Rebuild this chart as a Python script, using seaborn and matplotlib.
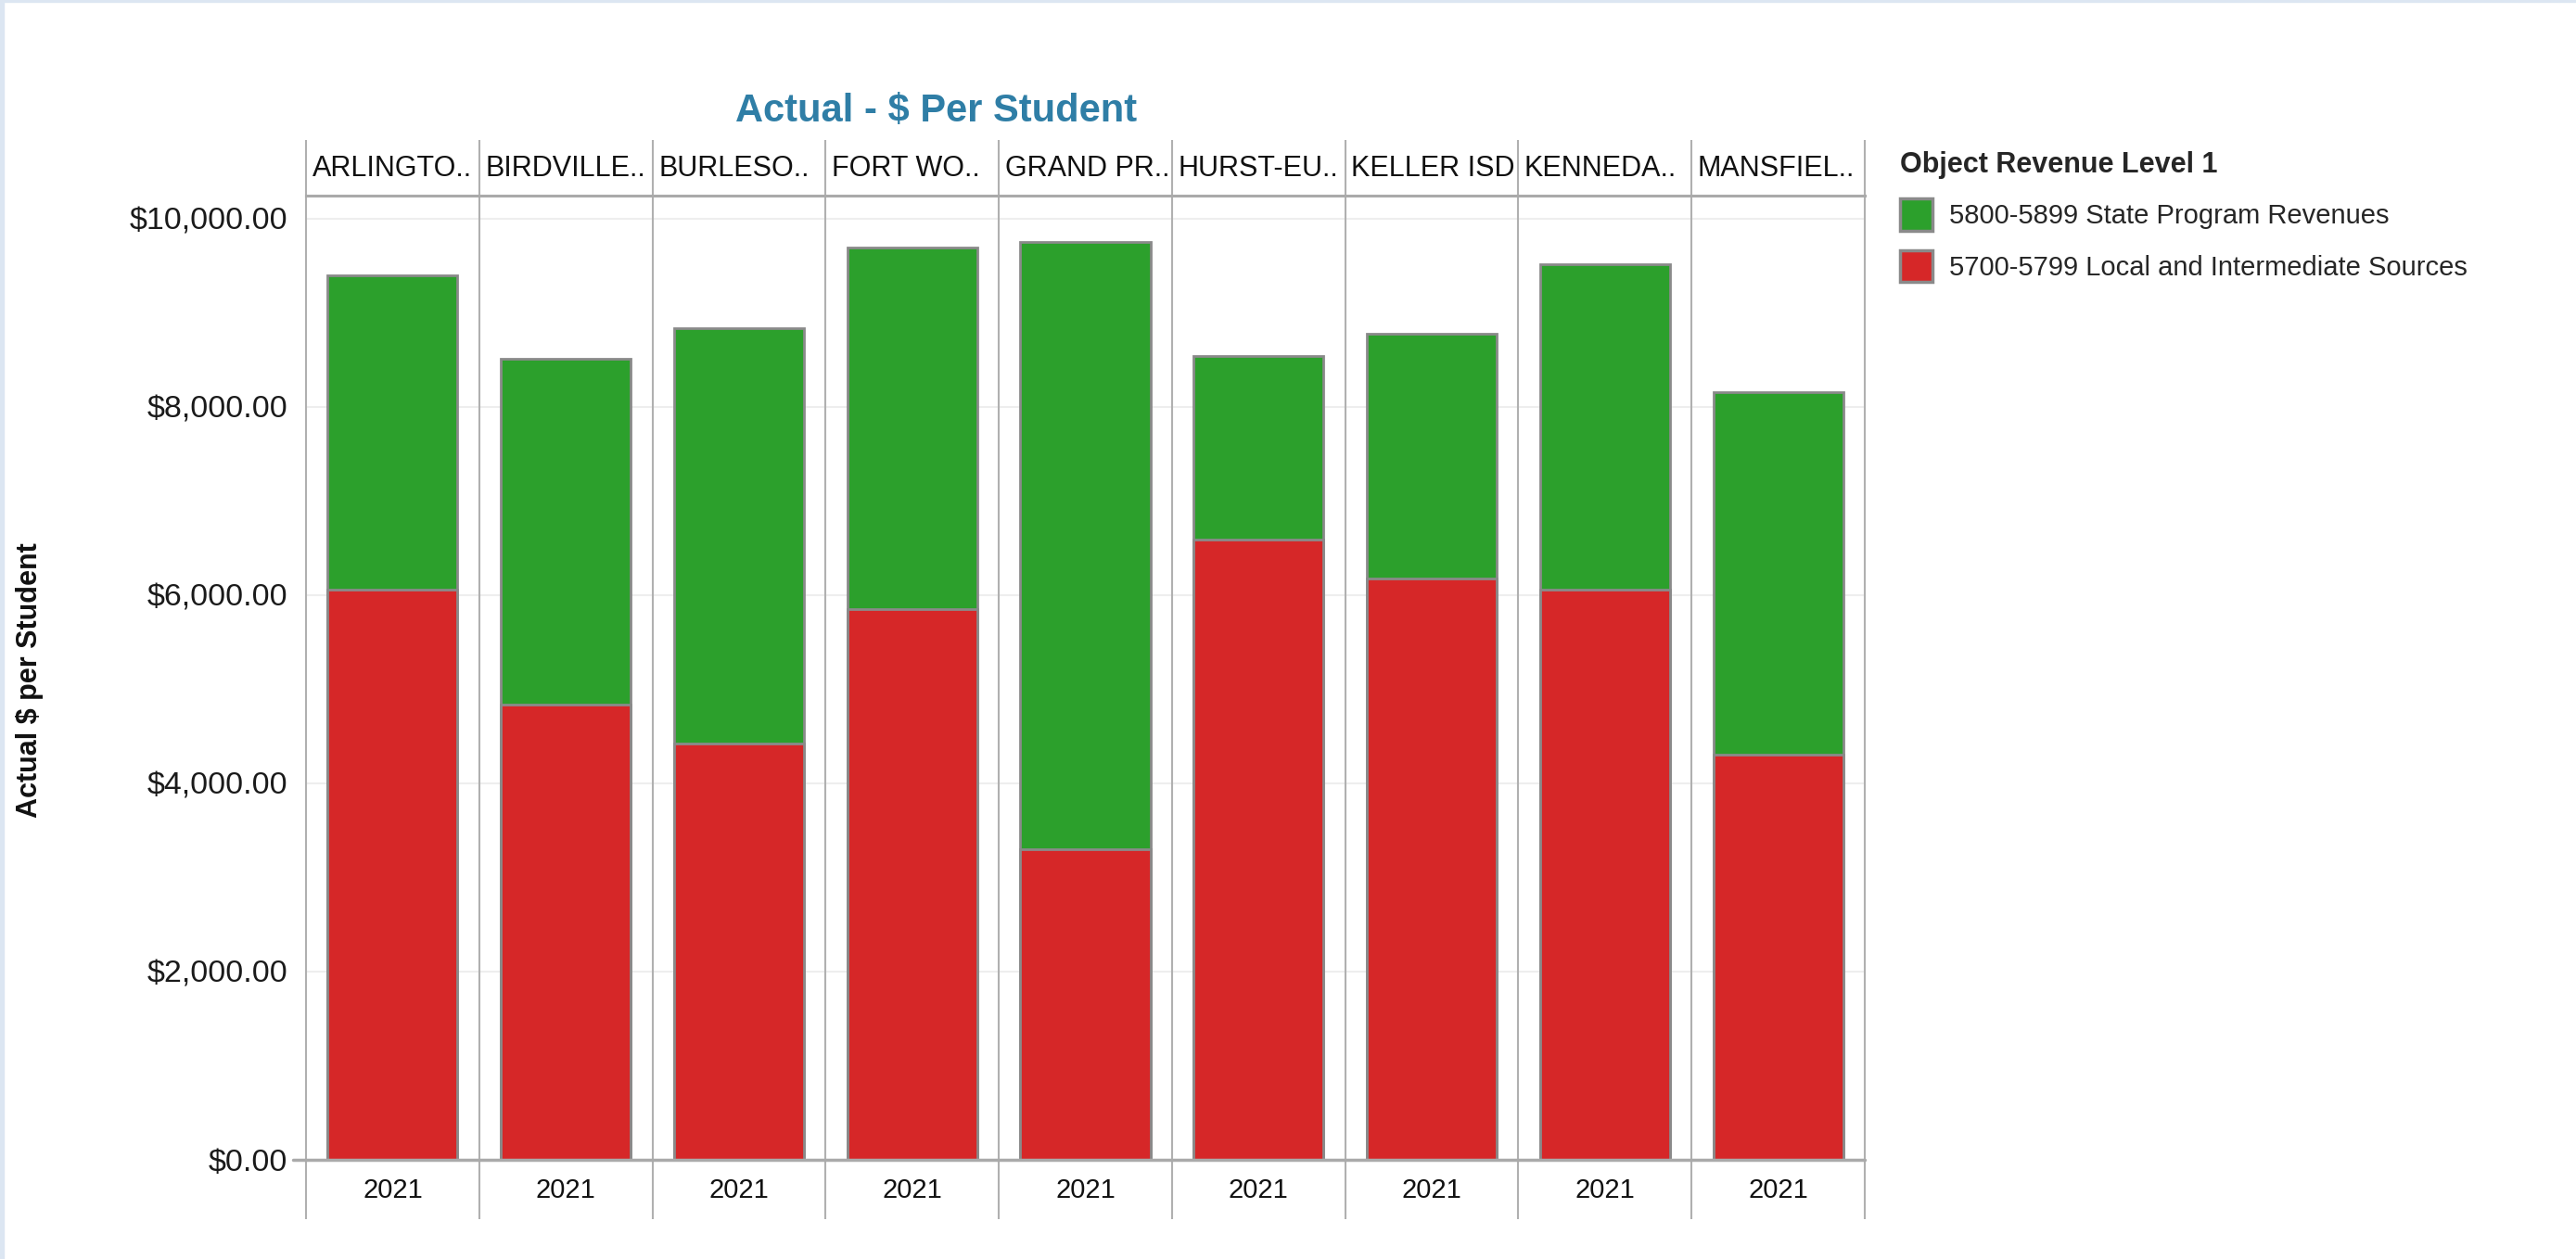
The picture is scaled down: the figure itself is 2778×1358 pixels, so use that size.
import numpy as np
import pandas as pd
import matplotlib
matplotlib.use("Agg")
import matplotlib.pyplot as plt
from matplotlib.patches import Patch, Rectangle
from matplotlib.ticker import FuncFormatter
import seaborn as sns

# ---- data ----
districts = ["ARLINGTO..", "BIRDVILLE..", "BURLESO..", "FORT WO..", "GRAND PR..",
             "HURST-EU..", "KELLER ISD", "KENNEDA..", "MANSFIEL.."]
years = ["2021"] * 9
local_vals = [6056, 4835, 4421, 5849, 3298, 6588, 6174, 6056, 4303]
state_vals = [3340, 3674, 4413, 3843, 6453, 1951, 2601, 3458, 3852]
series_names = ["5800-5899 State Program Revenues", "5700-5799 Local and Intermediate Sources"]
y_ticks = [0, 2000, 4000, 6000, 8000, 10000]

GREEN = "#2ca02c"
RED = "#d62728"
EDGE = "#8a8a8a"
LINE = "#b0b0b0"

sns.set_style("white")
plt.rcParams["font.family"] = ["Liberation Sans", "DejaVu Sans"]

df = pd.DataFrame({"district": districts, "local": local_vals, "state": state_vals})
df["total"] = df["local"] + df["state"]

W, H = 2778, 1358
fig = plt.figure(figsize=(W / 100, H / 100), dpi=100, facecolor="white")
ax = fig.add_axes([330 / W, (H - 1251) / H, 1681 / W, 1040 / H])

sns.barplot(data=df, x="district", y="total", color=GREEN, width=0.75, saturation=1,
            edgecolor=EDGE, linewidth=2, errorbar=None, ax=ax, zorder=3)
sns.barplot(data=df, x="district", y="local", color=RED, width=0.75, saturation=1,
            edgecolor=EDGE, linewidth=2, errorbar=None, ax=ax, zorder=3)

ax.set_xlim(-0.5, len(districts) - 0.5)
ax.set_ylim(0, 10246)
ax.set_xlabel("")
ax.set_ylabel("")

# y axis
ax.set_yticks(y_ticks)
ax.yaxis.set_major_formatter(FuncFormatter(lambda v, p: f"${v:,.2f}"))
ax.tick_params(axis="y", length=9.5, width=1.5, color="#aaaaaa", pad=4.5, labelsize=24.5,
               labelcolor="#1a1a1a")
ax.yaxis.grid(True, color="#eeeeee", lw=1.5)
ax.set_axisbelow(True)

# x axis: year labels in bottom row
ax.set_xticks(range(len(districts)))
ax.set_xticklabels(years)
ax.tick_params(axis="x", length=0, pad=14, labelsize=21, labelcolor="#111111")

for side in ["left", "right", "bottom"]:
    ax.spines[side].set_visible(False)
ax.spines["top"].set_visible(True)
ax.spines["top"].set_color("#aaaaaa")
ax.spines["top"].set_linewidth(2.2)

# baseline extends slightly left
ax.plot([-14 / 1681, 1], [0, 0], transform=ax.transAxes, clip_on=False,
        color="#aaaaaa", lw=2.5, zorder=4)

# column dividers spanning header and footer rows
ax.vlines(np.arange(-0.5, len(districts), 1), ymin=-0.0615, ymax=1.0577,
          transform=ax.get_xaxis_transform(), clip_on=False, color=LINE, lw=1.5, zorder=2)

# header labels
for i, name in enumerate(districts):
    ax.text(i - 0.5 + 0.035, 1.0279, name, transform=ax.get_xaxis_transform(),
            ha="left", va="center", fontsize=22, color="#111111", clip_on=False)

# title & axis label
fig.text(1010 / W, 1 - 120 / H, "Actual - $ Per Student", ha="center", va="center",
         fontsize=30, fontweight="bold", color="#2f7ea6")
fig.text(32 / W, 1 - 734 / H, "Actual $ per Student", rotation=90, ha="center",
         va="center", fontsize=22, fontweight="bold", color="#111111")

# legend
handles = [Patch(facecolor=GREEN, edgecolor=EDGE, lw=2.5),
           Patch(facecolor=RED, edgecolor=EDGE, lw=2.5)]
leg = fig.legend(handles, series_names, loc="upper left",
                 bbox_to_anchor=(2049 / W, 1 - 163 / H), frameon=False, fontsize=21,
                 title="Object Revenue Level 1",
                 title_fontproperties={"weight": "bold", "size": 22},
                 alignment="left", handlelength=1.2, handleheight=1.45,
                 handletextpad=0.62, labelspacing=0.72, borderpad=0, borderaxespad=0)

# screenshot frame border
fig.patches.append(Rectangle((0, 0), 4 / W, 1, transform=fig.transFigure,
                             color="#dce6f2", zorder=0))
fig.patches.append(Rectangle((0, 1 - 2 / H), 1, 2 / H, transform=fig.transFigure,
                             color="#dce6f2", zorder=0))

fig.savefig("out.png", dpi=100, facecolor="white")
